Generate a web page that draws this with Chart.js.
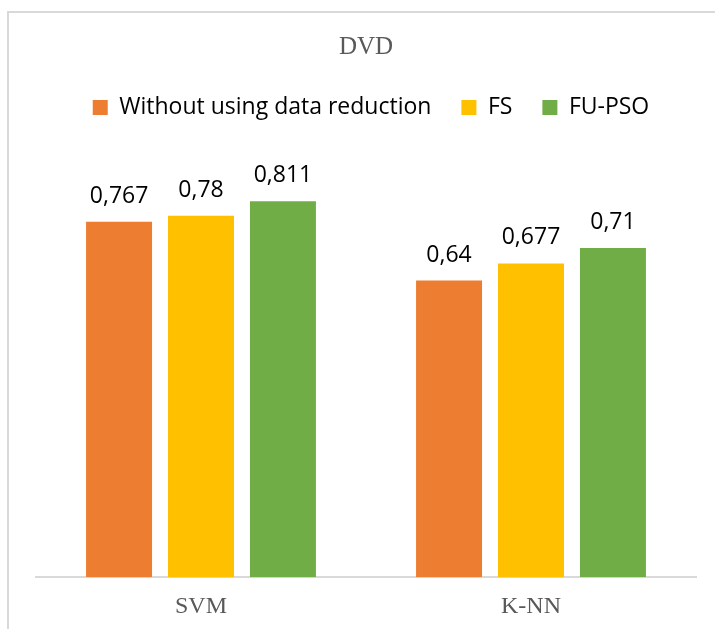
<!DOCTYPE html>
<html>
<head>
<meta charset="utf-8">
<script src="https://cdn.jsdelivr.net/npm/chart.js@4.4.1/dist/chart.umd.min.js"></script>
<style>
  html, body { margin: 0; padding: 0; background: #fff; }
  #wrap { position: relative; width: 715px; height: 629px; overflow: hidden; }
  #frame {
    position: absolute; left: 7px; top: 11px; width: 800px; height: 700px;
    border-left: 2px solid #d9d9d9; border-top: 2px solid #d9d9d9;
  }
  canvas { position: absolute; left: 0; top: 0; }
</style>
</head>
<body>
<div id="wrap">
  <div id="frame"></div>
  <canvas id="chart" width="715" height="636"></canvas>
</div>
<script>
// values
const categories = ["SVM", "K-NN"];
const seriesNames = ["Without using data reduction", "FS", "FU-PSO"];
const withoutReduction = [0.767, 0.64];
const fsValues = [0.78, 0.677];
const fuPsoValues = [0.811, 0.71];

const colors = ["#ED7D31", "#FFC000", "#70AD47"];

// draws "0,767" style labels above each bar
const valueLabels = {
  id: "valueLabels",
  afterDatasetsDraw(chart) {
    const ctx = chart.ctx;
    ctx.save();
    ctx.font = "23px 'Open Sans'";
    ctx.fillStyle = "#000";
    ctx.textAlign = "center";
    ctx.textBaseline = "alphabetic";
    chart.data.datasets.forEach((ds, i) => {
      chart.getDatasetMeta(i).data.forEach((bar, j) => {
        const txt = String(ds.data[j]).replace(".", ",");
        ctx.fillText(txt, bar.x, bar.y - 19);
      });
    });
    ctx.restore();
  }
};

// nudge the legend a little to the right, like the original
const legendShift = {
  id: "legendShift",
  afterLayout(chart) {
    chart.legend.left += 5;
    chart.legend.right += 5;
  }
};

const ctx = document.getElementById("chart").getContext("2d");
new Chart(ctx, {
  type: "bar",
  data: {
    labels: categories,
    datasets: [
      { label: seriesNames[0], data: withoutReduction, backgroundColor: colors[0] },
      { label: seriesNames[1], data: fsValues, backgroundColor: colors[1] },
      { label: seriesNames[2], data: fuPsoValues, backgroundColor: colors[2] }
    ]
  },
  options: {
    responsive: false,
    animation: false,
    categoryPercentage: 0.745,
    barPercentage: 0.805,
    layout: { padding: { left: 36, right: 19, top: 0, bottom: 0 } },
    plugins: {
      title: {
        display: true,
        text: "DVD",
        color: "#595959",
        font: { family: "'Liberation Serif'", size: 25, weight: "normal" },
        padding: { top: 32, bottom: 4 }
      },
      legend: {
        position: "top",
        labels: {
          color: "#000",
          boxWidth: 15,
          boxHeight: 15,
          padding: 30,
          font: { family: "'Open Sans'", size: 23 }
        }
      },
      tooltip: { enabled: false }
    },
    scales: {
      x: {
        grid: { display: false, drawTicks: false },
        border: { display: true, color: "#d9d9d9", width: 2 },
        ticks: {
          color: "#595959",
          padding: 15,
          font: { family: "'Liberation Serif'", size: 24 }
        }
      },
      y: {
        display: false,
        min: 0,
        max: 0.967
      }
    }
  },
  plugins: [valueLabels, legendShift]
});
</script>
</body>
</html>
